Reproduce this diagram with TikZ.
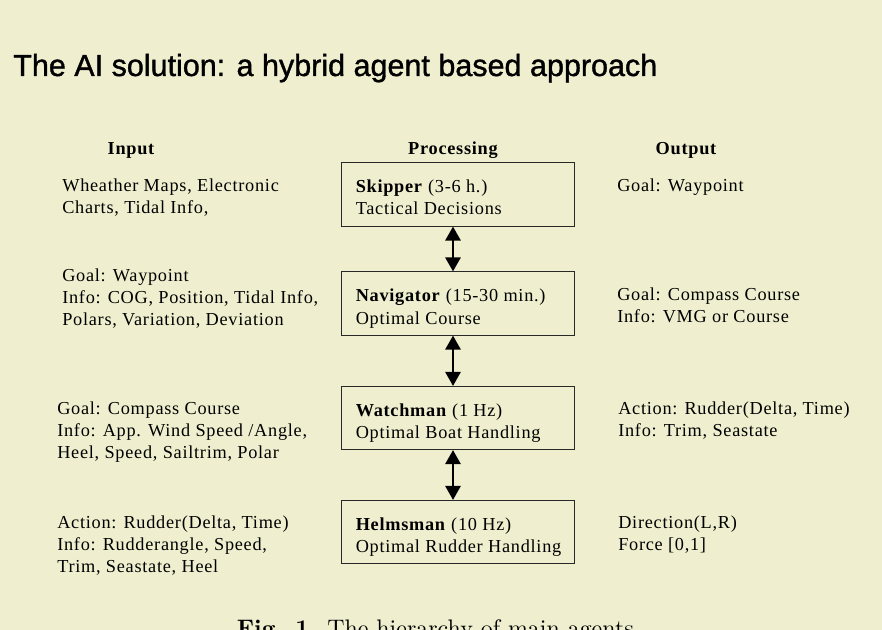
\documentclass[tikz,border=0pt]{standalone}
\usepackage{fontspec}
\setmainfont{Liberation Serif}[LetterSpace=4]
\newfontfamily\titlefont{Liberation Sans}[FakeBold=1.2]
\newfontfamily\capfont{lmroman10-regular}[Extension=.otf, BoldFont=lmroman10-bold]
\usepackage{tikz}
\usetikzlibrary{calc}
\usetikzlibrary{arrows.meta}

\definecolor{slidebg}{RGB}{239,239,207}
\definecolor{inkgray}{RGB}{40,40,40}

% multi-line nodes sit on the baseline of their last line
\tikzset{
	slidetext/.style = {font=\fontsize{13}{15.8}\selectfont, align=left, anchor=base west, inner sep=0pt},
	colhead/.style = {font=\fontsize{13}{15.8}\selectfont\bfseries, anchor=base, inner sep=0pt},
	agentbox/.style = {draw=inkgray, line width=0.7pt, minimum width=5.8cm, minimum height=1.575cm, inner sep=0pt},
	linkarrow/.style = {{Triangle[width=10.6pt,length=10pt]}-{Triangle[width=10.6pt,length=10pt]}, line width=2.1pt}
}

\begin{document}
\begin{tikzpicture}[x=0.025cm, y=-0.025cm]

	% slide background
	\useasboundingbox (0,0) rectangle (882,630);
	\fill [slidebg] (0,0) rectangle (882,630);

	% title
	\node [anchor=base west, inner sep=0pt, font=\titlefont\fontsize{21.7}{26}\selectfont] (title) at (13,76) {The AI solution: a hybrid agent based approach};

	% column heads
	\def \inX {62}
	\def \boxX {458}
	\def \outX {617}
	\def \pitch {22.3}
	\node [colhead] (input) at (131,155) {Input};
	\node [colhead] (processing) at (453,155) {Processing};
	\node [colhead] (output) at (686,155) {Output};

	% agents
	\node [agentbox] (skipper) at (\boxX,194.5) {};
	\node [agentbox] (navigator) at (\boxX,303.5) {};
	\node [agentbox] (watchman) at (\boxX,418) {};
	\node [agentbox] (helmsman) at (\boxX,532) {};
	\node [slidetext] (skipperText) at ($(skipper.south west)+(14,-11.5)$) {\textbf{Skipper} (3-6 h.)\\Tactical Decisions};
	\node [slidetext] (navigatorText) at ($(navigator.south west)+(14,-11.5)$) {\textbf{Navigator} (15-30 min.)\\Optimal Course};
	\node [slidetext] (watchmanText) at ($(watchman.south west)+(14,-11.5)$) {\textbf{Watchman} (1 Hz)\\Optimal Boat Handling};
	\node [slidetext] (helmsmanText) at ($(helmsman.south west)+(14,-11.5)$) {\textbf{Helmsman} (10 Hz)\\Optimal Rudder Handling};

	% links between the agents
	\draw [linkarrow] ($(skipper.south)+(-5,0)$) -- ($(navigator.north)+(-5,0)$);
	\draw [linkarrow] ($(navigator.south)+(-5,0)$) -- ($(watchman.north)+(-5,0)$);
	\draw [linkarrow] ($(watchman.south)+(-5,0)$) -- ($(helmsman.north)+(-5,0)$);

	% inputs
	\node [slidetext] (inSkipper) at (\inX,{191+\pitch}) {Wheather Maps, Electronic\\Charts, Tidal Info,};
	\node [slidetext] (inNavigator) at (\inX,{281+2*\pitch}) {Goal: Waypoint\\Info: COG, Position, Tidal Info,\\Polars, Variation, Deviation};
	\node [slidetext] (inWatchman) at (57,{414+2*\pitch}) {Goal: Compass Course\\Info: App. Wind Speed /Angle,\\Heel, Speed, Sailtrim, Polar};
	\node [slidetext] (inHelmsman) at (57,{528+2*\pitch}) {Action: Rudder(Delta, Time)\\Info: Rudderangle, Speed,\\Trim, Seastate, Heel};

	% outputs
	\node [slidetext] (outSkipper) at (\outX,192) {Goal: Waypoint};
	\node [slidetext] (outNavigator) at (\outX,{300+\pitch}) {Goal: Compass Course\\Info: VMG or Course};
	\node [slidetext] (outWatchman) at (618,{414+\pitch}) {Action: Rudder(Delta, Time)\\Info: Trim, Seastate};
	\node [slidetext] (outHelmsman) at (618,{528+\pitch}) {Direction(L,R)\\Force [0,1]};

	% caption, cut by the page
	\node [anchor=base east, inner sep=0pt, font=\capfont\fontsize{17}{20}\selectfont] (caption) at (634,636) {\textbf{Fig. 1.} The hierarchy of main agents};

\end{tikzpicture}
\end{document}
